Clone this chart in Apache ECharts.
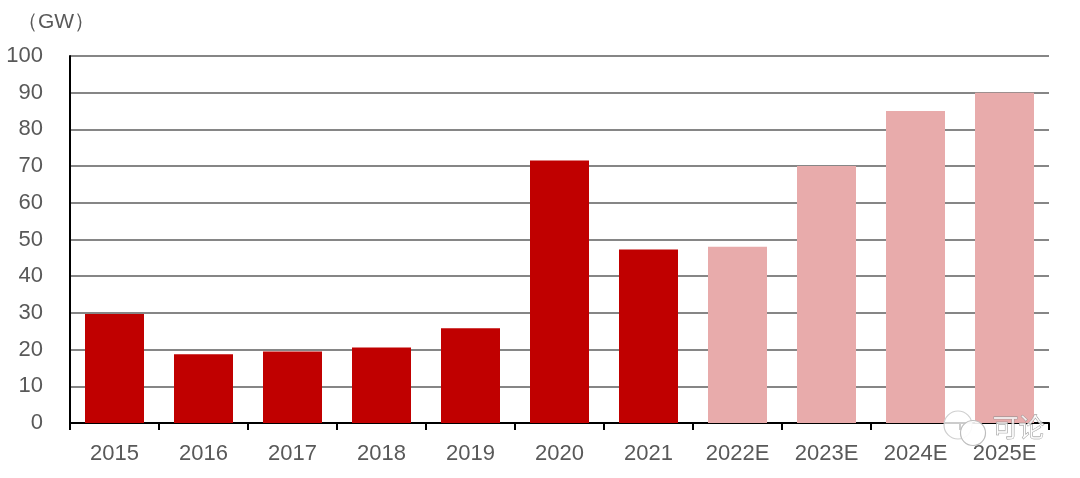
<!DOCTYPE html>
<html>
<head>
<meta charset="utf-8">
<style>
  html, body { margin: 0; padding: 0; background: #fff; }
  #main { width: 1080px; height: 478px; }
</style>
<script src="https://cdn.jsdelivr.net/npm/echarts@6/dist/echarts.min.js"></script>
</head>
<body>
<div id="main"></div>
<script>
var years = ['2015', '2016', '2017', '2018', '2019', '2020', '2021', '2022E', '2023E', '2024E', '2025E'];
var capacity = [29.7, 18.7, 19.5, 20.6, 25.8, 71.5, 47.3, 48, 70, 85, 90];

var labelFont = '"Liberation Sans", Arial, sans-serif';
var chart = echarts.init(document.getElementById('main'));

chart.setOption({
  animation: false,
  backgroundColor: '#fff',
  grid: { left: 70, right: 31, top: 56, bottom: 55, containLabel: false },
  xAxis: {
    type: 'category',
    data: years,
    axisLine: { lineStyle: { color: '#000', width: 2 } },
    axisTick: { show: true, length: 7, alignWithLabel: false, lineStyle: { color: '#000', width: 2 } },
    axisLabel: { color: '#595959', fontFamily: labelFont, fontSize: 22, margin: 20, interval: 0 }
  },
  yAxis: {
    type: 'value',
    min: 0,
    max: 100,
    interval: 10,
    axisLine: { show: true, lineStyle: { color: '#000', width: 2 } },
    axisTick: { show: false },
    axisLabel: { color: '#595959', fontFamily: labelFont, fontSize: 22, margin: 27, padding: [5, 0, 0, 0] },
    splitLine: { lineStyle: { color: '#868686', width: 2 } }
  },
  series: [{
    type: 'bar',
    barWidth: 59,
    data: capacity.map(function (v, i) {
      // forecast years are drawn in the lighter colour
      return { value: v, itemStyle: { color: years[i].indexOf('E') > 0 ? '#e8abab' : '#c00000' } };
    })
  }],
  graphic: [
    { type: 'text', left: 17, top: 12, style: { text: '（GW）', fill: '#595959', font: '21px ' + labelFont } },
    { type: 'circle', z: 100, shape: { cx: 958, cy: 425, r: 14 }, style: { fill: 'rgba(255,255,255,0.8)', stroke: '#cfcfcf', lineWidth: 1.2 } },
    { type: 'circle', z: 100, shape: { cx: 973, cy: 433, r: 12.5 }, style: { fill: 'rgba(255,255,255,0.9)', stroke: '#bdbdbd', lineWidth: 1.2 } },
    { type: 'text', left: 992, top: 414, z: 100, style: { text: '可论', fill: 'rgba(255,255,255,0.75)', stroke: '#8c8c8c', lineWidth: 0.8, font: '26px "Noto Sans CJK SC"' } }
  ]
});
</script>
</body>
</html>
